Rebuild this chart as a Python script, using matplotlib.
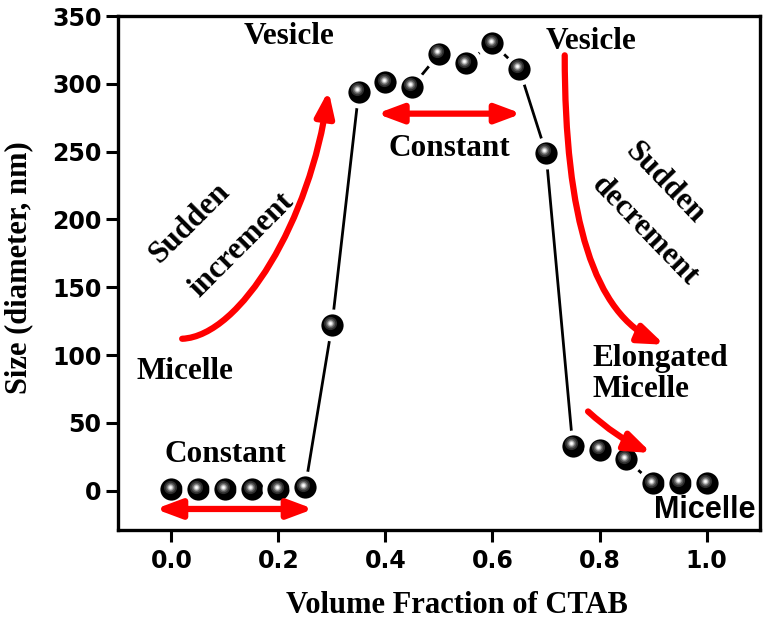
import matplotlib
matplotlib.use('Agg')
import matplotlib.pyplot as plt
from matplotlib.patches import FancyArrowPatch
from matplotlib.path import Path
from matplotlib.transforms import offset_copy

# Dados
fracao_ctab = [0.00, 0.05, 0.10, 0.15, 0.20, 0.25, 0.30, 0.35, 0.40, 0.45, 0.50,
               0.55, 0.60, 0.65, 0.70, 0.75, 0.80, 0.85, 0.90, 0.95, 1.00]
tamanho = [1, 1, 1, 1, 1, 2.5, 122, 294, 301, 298, 322,
           315, 330, 311, 249, 33, 30, 23, 5.5, 6, 5.5]

xticks = [0.0, 0.2, 0.4, 0.6, 0.8, 1.0]
yticks = [0, 50, 100, 150, 200, 250, 300, 350]

serif = 'Liberation Serif'
sans = 'DejaVu Sans'
vermelho = '#ff0000'

fig = plt.figure(figsize=(7.67, 6.18), dpi=100)
ax = fig.add_axes([0.1538, 0.1424, 0.8371, 0.8317])

# linha e esferas (borda branca cria o espaco entre linha e marcador)
ax.plot(fracao_ctab, tamanho, color='black', lw=2.0, zorder=2)
ax.plot(fracao_ctab, tamanho, 'o', ms=19.5, mfc='black', mec='white', mew=3.5, zorder=3)
# brilho das esferas
brilho = offset_copy(ax.transData, fig=fig, x=-1.3, y=1.8, units='points')
for cor, tam in [('#2e2e2e', 9.5), ('#5a5a5a', 7), ('#9a9a9a', 4.8), ('#d8d8d8', 3.2), ('white', 1.8)]:
    ax.plot(fracao_ctab, tamanho, 'o', ms=tam, mfc=cor, mec='none', transform=brilho, zorder=4)

ax.set_xlim(-0.1, 1.1)
ax.set_ylim(-29, 350)
ax.set_xticks(xticks)
ax.set_yticks(yticks)
ax.set_xticklabels([f'{v:.1f}' for v in xticks], fontfamily=sans, fontweight='bold', fontsize=17)
ax.set_yticklabels([str(v) for v in yticks], fontfamily=sans, fontweight='bold', fontsize=17)
ax.tick_params(direction='out', length=8.3, width=2.2, top=False, right=False)
ax.tick_params(axis='x', pad=5.5)
ax.tick_params(axis='y', pad=3.6)
for s in ax.spines.values():
    s.set_linewidth(2.4)

ax.set_xlabel('Volume Fraction of CTAB', fontfamily=serif, fontweight='bold', fontsize=22,
              va='center')
ax.set_ylabel('Size (diameter, nm)', fontfamily=serif, fontweight='bold', fontsize=22,
              va='center')
ax.xaxis.set_label_coords(0.528, -0.146)
ax.yaxis.set_label_coords(-0.154, 0.51)

# textos
txt = dict(fontfamily=serif, fontweight='bold', fontsize=22.5, ha='center', va='center')
ax.text(0.220, 335, 'Vesicle', **txt)
ax.text(0.785, 331, 'Vesicle', **txt)
ax.text(0.519, 252, 'Constant', **txt)
ax.text(0.101, 27, 'Constant', **txt)
ax.text(0.026, 88, 'Micelle', **txt)
ax.text(0.035, 197, 'Sudden', rotation=45, **txt)
ax.text(0.132, 181, 'increment', rotation=45, **txt)
ax.text(0.922, 227, 'Sudden', rotation=-46, **txt)
ax.text(0.884, 191, 'decrement', rotation=-46, **txt)
ax.text(0.787, 86, 'Elongated\nMicelle', fontfamily=serif, fontweight='bold', fontsize=22.5,
        ha='left', va='center', linespacing=1.1)
ax.text(0.996, -14, 'Micelle', fontfamily='Liberation Sans', fontweight='bold', fontsize=22,
        ha='center', va='center')

# setas vermelhas
seta = dict(color=vermelho, lw=4.5, mutation_scale=20, zorder=5)
ponta = '-|>,head_length=0.75,head_width=0.28'
dupla = '<|-|>,head_length=0.75,head_width=0.28'

curva = [Path.MOVETO, Path.CURVE4, Path.CURVE4, Path.CURVE4]
sobe = Path([(0.020, 112), (0.13, 114), (0.26, 200), (0.2935, 295)], curva)
desce = Path([(0.735, 321), (0.735, 200), (0.79, 130), (0.9216, 107.6)], curva)
ax.add_patch(FancyArrowPatch(path=sobe, arrowstyle=ponta, capstyle='round', **seta))
ax.add_patch(FancyArrowPatch(path=desce, arrowstyle=ponta, capstyle='round', **seta))
ax.add_patch(FancyArrowPatch((0.7786, 58.4), (0.8968, 27.8), arrowstyle=ponta,
                             connectionstyle='arc3,rad=0.08', shrinkA=0, shrinkB=0, **seta))
ax.add_patch(FancyArrowPatch((0.3838, 278), (0.6543, 278), arrowstyle=dupla,
                             shrinkA=0, shrinkB=0, **seta))
ax.add_patch(FancyArrowPatch((-0.030, -13.5), (0.2655, -13.5), arrowstyle=dupla,
                             shrinkA=0, shrinkB=0, **seta))

fig.savefig('out.png', dpi=100)
